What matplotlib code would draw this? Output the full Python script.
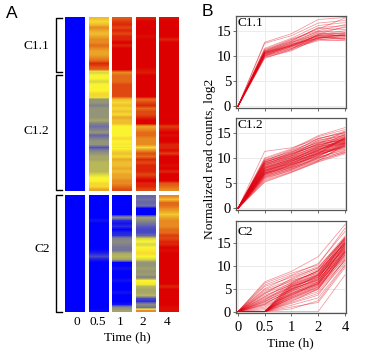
import matplotlib
matplotlib.use('Agg')
import matplotlib.pyplot as plt
import numpy as np
from matplotlib.colors import LinearSegmentedColormap
from matplotlib.lines import Line2D

W, H = 366, 354

time_labels = ['0', '0.5', '1', '2', '4']

# heatmap rows, 0 = blue ... 4 = yellow ... 8 = red
c1_t0 = [0] * 58
c1_t05 = [5, 4.5, 5, 6, 5.5, 5, 5.5, 6, 6, 6.5, 6, 5.5, 5.5, 6, 6.5, 7.5, 7, 6.5,
          3.5, 4, 4, 3.5, 4, 4, 4, 4.5, 4.5,
          2.2, 2.2, 1.8, 2.2, 2.2, 2.2, 2.2, 2.6,
          1.8, 1.4, 1.8, 2.2, 1.2, 1.8, 2.2, 2.2,
          0.9, 1.8, 2.2, 2.6, 2.6, 3, 3, 3,
          3, 3.5, 4, 4, 4.5, 4.5, 5.5]
c1_t1 = [6.8, 7.2, 7.5, 7, 7.5, 7, 7.5, 7.5, 8, 7.5, 8, 8, 8, 8, 8, 8, 8, 8,
         6, 6.5, 6.5, 6.5, 7, 7, 7, 7, 7,
         5, 4.5, 5, 4.5, 5, 4.5, 5.5, 5, 5,
         4, 4, 4, 4, 4.5, 4, 4.2,
         3.8, 4.5, 5, 4.5, 5.5, 5, 5, 5.5,
         5, 5.5, 5.5, 6, 6, 6.5, 7]
c1_t2 = [7.6, 8, 8, 8, 8, 8, 7.8, 8, 8, 8, 8, 8, 8, 8, 8, 8, 8, 7.8,
         7.6, 8, 8, 8, 8, 8, 8, 8, 8,
         6.5, 7, 7.5, 6.5, 7, 7, 7.5, 8, 8,
         5.5, 6, 6.5, 6.5, 6, 6, 6,
         4.5, 6, 7, 6.5, 7.5, 7, 7.5, 7.5,
         7.5, 7, 7.5, 8, 7.5, 7.5, 7]
c1_t4 = [7.8, 8, 8, 8, 8, 8, 8, 7.5, 8, 8, 8, 8, 8, 8, 8, 8, 8, 8,
         8, 8, 8, 8, 8, 8, 8, 8, 8,
         8, 8, 8, 8, 8, 8, 8, 8, 8,
         7.2, 7.6, 8, 7.8, 8, 8, 7.5,
         7.5, 7.8, 7.2, 8, 8, 8, 7.8, 8,
         7.5, 8, 8, 8, 6.8, 6.5, 6]

c2_t0 = [0] * 39
c2_t05 = [0, 0, 0, 0, 0, 0, 0, 0, 0.2, 0, 0, 0, 0, 0, 0, 0, 0, 0, 0.1,
          0.4, 0.8, 0.3, 0, 0, 0, 0, 0, 0, 0, 0, 0, 0, 0, 0, 0, 0, 0, 0, 0.1]
c2_t1 = [0, 0, 0, 0, 0, 0, 0, 2, 0.5, 0.2, 0.5, 0, 0.4, 0.5,
         1.8, 2, 1.8, 1.5, 1.5, 2.7, 3, 2.5,
         0, 0, 0.2, 0, 0, 0, 0.2, 0, 0, 0, 0.2, 0, 0, 0, 0.2, 2, 2.5]
c2_t2 = [1.2, 1.5, 1.2, 1.5, 0, 0, 0, 2.5, 2, 1.5, 1, 0.8, 0.8, 1.2,
         3.5, 4, 3.5, 4, 4.2, 4.5, 4, 3.5,
         2.2, 2.2, 2.5, 2.2, 2.4, 1.8, 4, 4.2, 3, 2.6, 2.6, 3, 0.8, 0.5, 2, 1.5, 6]
c2_t4 = [6, 5, 6.5, 6.5, 6, 5.5, 4.8, 5.5, 6, 6, 6, 6.5, 6.5,
         7.2, 7, 7.5, 7.5, 8, 7.8, 8, 8, 8, 8, 8, 8, 8, 8, 8, 8, 8,
         7.5, 8, 8, 8, 8, 8, 8, 7.8, 7.8]

# read counts at 0, 0.5, 1, 2, 4 h
c11_lines = [
    [0, 12.7, 14.4, 17.2, 17.6], [0, 12.5, 14.0, 16.5, 17.0], [0, 11.5, 13.5, 16.0, 16.6],
    [0, 11.3, 13.3, 15.3, 17.5], [0, 11.2, 13.0, 15.5, 15.2], [0, 11.0, 13.2, 15.0, 16.2],
    [0, 11.0, 12.8, 14.8, 15.6], [0, 10.8, 12.5, 14.6, 14.3], [0, 10.8, 12.7, 14.2, 15.0],
    [0, 10.7, 12.2, 14.5, 13.9], [0, 10.6, 12.4, 14.0, 14.5], [0, 10.5, 12.0, 13.8, 14.2],
    [0, 10.5, 12.3, 13.5, 13.8], [0, 10.4, 11.8, 14.1, 14.0], [0, 10.3, 12.0, 13.6, 13.5],
    [0, 10.2, 11.6, 13.4, 14.4], [0, 10.1, 11.8, 13.2, 13.6], [0, 10.0, 11.4, 13.7, 13.3],
    [0, 9.9, 11.5, 13.0, 13.2], [0, 9.8, 11.2, 13.3, 13.0], [0, 9.7, 11.0, 13.6, 14.1],
    [0, 9.5, 11.3, 14.3, 15.8], [0, 10.9, 12.9, 15.6, 16.0], [0, 10.6, 12.6, 14.9, 14.7],
    [0, 10.4, 12.1, 14.0, 13.4], [0, 10.2, 12.2, 13.9, 14.1], [0, 10.0, 11.9, 13.5, 14.0],
    [0, 10.7, 12.0, 14.2, 14.6],
]
c12_lines = [
    [0, 11.3, 12.0, 13.8, 15.0], [0, 10.0, 11.8, 14.4, 16.0], [0, 9.8, 11.6, 14.2, 15.6],
    [0, 9.6, 11.3, 13.7, 15.3], [0, 9.4, 11.5, 13.4, 14.8], [0, 9.3, 11.0, 13.9, 15.0],
    [0, 9.1, 10.8, 13.2, 14.6], [0, 9.0, 11.1, 13.0, 14.2], [0, 8.9, 10.6, 12.8, 15.2],
    [0, 8.8, 10.5, 13.5, 14.4], [0, 8.6, 10.8, 12.6, 13.8], [0, 8.5, 10.2, 12.4, 14.1],
    [0, 8.4, 10.4, 12.9, 13.5], [0, 8.3, 10.0, 12.1, 14.7], [0, 8.2, 10.1, 12.3, 13.2],
    [0, 8.1, 9.8, 11.9, 13.7], [0, 8.0, 9.6, 12.2, 13.0], [0, 7.9, 9.9, 11.7, 13.4],
    [0, 7.8, 9.5, 11.5, 14.0], [0, 7.7, 9.3, 11.8, 12.8], [0, 7.6, 9.6, 11.3, 13.3],
    [0, 7.5, 9.1, 11.1, 12.5], [0, 7.4, 9.2, 11.6, 13.6], [0, 7.3, 9.0, 11.0, 12.3],
    [0, 7.2, 8.8, 10.8, 13.1], [0, 7.1, 8.9, 11.2, 12.0], [0, 7.0, 8.6, 10.6, 12.9],
    [0, 7.0, 8.4, 10.9, 11.8], [0, 6.9, 8.7, 10.4, 12.6], [0, 6.8, 8.2, 10.2, 11.5],
    [0, 6.7, 8.5, 10.7, 12.2], [0, 6.6, 8.0, 10.0, 11.2], [0, 6.4, 8.1, 9.8, 12.4],
    [0, 6.3, 7.8, 9.6, 11.0], [0, 6.1, 7.7, 10.1, 11.7], [0, 6.0, 7.5, 9.5, 11.4],
    [0, 5.8, 7.6, 9.9, 12.1], [0, 5.6, 7.3, 9.4, 12.7], [0, 5.4, 7.2, 9.3, 11.1],
    [0, 5.2, 7.1, 9.2, 10.8],
    [0, 9.5, 11.2, 13.1, 13.9], [0, 9.2, 10.9, 12.7, 14.5], [0, 8.7, 10.3, 12.5, 13.6],
    [0, 8.6, 10.0, 11.9, 13.0], [0, 8.2, 9.7, 12.0, 14.3], [0, 7.9, 9.4, 11.4, 13.5],
    [0, 7.6, 9.0, 11.3, 12.7], [0, 7.4, 8.9, 10.9, 14.1], [0, 7.2, 9.3, 11.5, 13.8],
    [0, 7.0, 8.7, 11.0, 13.2], [0, 6.9, 8.3, 10.5, 12.5], [0, 6.7, 8.6, 10.3, 13.0],
    [0, 6.5, 8.2, 10.6, 12.3], [0, 6.2, 7.9, 10.2, 12.8], [0, 8.9, 10.4, 12.2, 13.4],
    [0, 9.2, 10.7, 12.6, 13.7], [0, 8.0, 9.7, 11.6, 12.9], [0, 7.5, 9.4, 10.8, 13.9],
]
c2_lines = [
    [0, 6.5, 8.8, 12.0, 19.0], [0, 6.2, 8.4, 10.2, 18.2], [0, 5.8, 8.0, 10.5, 17.5],
    [0, 5.5, 7.5, 9.5, 16.5], [0, 5.0, 7.8, 9.8, 16.0], [0, 4.8, 7.0, 9.2, 15.6],
    [0, 4.5, 6.6, 8.8, 15.2], [0, 4.2, 6.8, 8.4, 14.8], [0, 4.0, 6.2, 9.0, 16.2],
    [0, 3.6, 5.8, 8.0, 14.5], [0, 3.3, 6.0, 8.6, 15.0], [0, 3.0, 5.5, 7.6, 14.0],
    [0, 2.8, 5.2, 7.8, 13.6], [0, 2.5, 5.6, 7.2, 15.4], [0, 2.3, 4.8, 7.0, 13.2],
    [0, 2.1, 5.0, 6.8, 14.2], [0, 1.9, 4.4, 6.5, 12.8], [0, 1.7, 4.6, 7.4, 13.8],
    [0, 1.5, 4.0, 6.2, 12.4], [0, 1.3, 3.6, 5.8, 12.0], [0, 1.0, 3.8, 6.0, 13.0],
    [0, 0.7, 3.2, 5.4, 11.5], [0, 0.4, 2.8, 5.0, 11.0],
    [0, 3.9, 7.2, 9.6, 15.8], [0, 3.2, 6.4, 8.9, 14.9], [0, 2.6, 6.0, 8.2, 16.0],
    [0, 2.2, 5.4, 7.9, 14.6], [0, 1.6, 4.9, 8.0, 15.2],
    [0, 0, 5.8, 8.2, 15.8], [0, 0, 5.4, 7.5, 14.6], [0, 0, 5.0, 7.0, 13.4],
    [0, 0, 4.6, 6.6, 14.4], [0, 0, 4.2, 6.2, 13.0], [0, 0, 3.9, 6.0, 12.6],
    [0, 0, 3.5, 6.4, 13.7], [0, 0, 3.2, 5.6, 12.2], [0, 0, 3.0, 5.2, 11.8],
    [0, 0, 2.6, 4.8, 12.9], [0, 0, 2.4, 4.4, 11.2], [0, 0, 2.0, 4.0, 10.6],
    [0, 0, 1.8, 3.6, 11.4], [0, 0, 1.4, 3.0, 10.2], [0, 0, 1.0, 2.0, 9.6],
    [0, 0, 0, 0, 8.0], [0, 0, 0.6, 2.4, 10.0],
    [0, 0, 6.2, 8.9, 16.2], [0, 0, 5.6, 8.0, 15.0], [0, 0, 5.1, 7.6, 14.2],
    [0, 0, 4.8, 7.2, 15.6], [0, 0, 4.4, 6.9, 14.0], [0, 0, 4.0, 6.5, 13.2],
    [0, 0, 3.7, 6.1, 14.8], [0, 0, 3.4, 5.8, 13.5], [0, 0, 2.9, 5.4, 12.4],
    [0, 0, 2.2, 5.0, 13.1],
]

plt.rcParams['font.family'] = ['Liberation Serif']
plt.rcParams['font.size'] = 9.6


def px_axes(fig, left, top, right, bottom):
    return fig.add_axes([left / W, 1 - bottom / H, (right - left) / W, (bottom - top) / H])


def fig_text(fig, x, y, s, **kw):
    fig.text(x / W, 1 - y / H, s, ha=kw.pop('ha', 'center'), va=kw.pop('va', 'center'), **kw)


def draw_heatmap(fig):
    cmap = LinearSegmentedColormap.from_list('expr', [
        '#0000ff', '#5c5cb8', '#8c8c80', '#b8b85a', '#fbf530',
        '#f0bf30', '#e88c20', '#e04c12', '#dc0000'])
    ax = px_axes(fig, 62, 17, 181, 312)
    ax.set_xlim(-0.55, 4.5)
    ax.set_ylim(312, 17)
    ax.axis('off')
    c1_cols = [c1_t0, c1_t05, c1_t1, c1_t2, c1_t4]
    c2_cols = [c2_t0, c2_t05, c2_t1, c2_t2, c2_t4]
    for i in range(5):
        for col, top, bottom in [(c1_cols[i], 17, 191), (c2_cols[i], 195, 312)]:
            ax.imshow(np.array(col)[:, None], cmap=cmap, vmin=0, vmax=8, aspect='auto',
                      interpolation='bilinear', extent=[i - 0.42, i + 0.42, bottom, top])
    ax.set_xlim(-0.55, 4.5)
    ax.set_ylim(312, 17)

    # cluster brackets
    for top, bottom in [(18, 72), (75, 190), (195, 312)]:
        fig.add_artist(Line2D([62 / W, 56 / W, 56 / W, 62 / W],
                              [1 - top / H, 1 - top / H, 1 - bottom / H, 1 - bottom / H],
                              color='black', lw=1.0))
    fig_text(fig, 36, 46, 'C1.1')
    fig_text(fig, 36, 131, 'C1.2')
    fig_text(fig, 42, 249, 'C2')
    for x, lab in zip([77, 98, 120, 143, 167], time_labels):
        fig_text(fig, x, 322, lab)
    fig_text(fig, 127, 337, 'Time (h)')


def draw_panel(fig, top, bottom, ymax, lines, yticks, label, label_y, show_x=False):
    ax = px_axes(fig, 236, top, 346, bottom)
    for row in lines:
        ax.plot(range(5), row, color='#e00010', lw=0.55, alpha=0.42, solid_joinstyle='round')
    ax.set_xlim(-0.07, 4.04)
    ax.set_ylim(-0.3, ymax)
    ax.set_xticks(range(5))
    ax.set_yticks(yticks)
    ax.grid(True, color='#ececec', lw=0.7)
    ax.set_axisbelow(True)
    for s in ax.spines.values():
        s.set_color('#555555')
        s.set_linewidth(0.9)
    ax.tick_params(length=2, width=0.6, color='#555555', pad=1.5, labelsize=10.5)
    if show_x:
        ax.set_xticklabels(time_labels)
        ax.tick_params(axis='x', pad=4)
    else:
        ax.set_xticklabels([])
    ax.text(0.015, label_y, label, transform=ax.transAxes, va='center', ha='left', fontsize=9.6)
    return ax


def main():
    fig = plt.figure(figsize=(W / 100, H / 100), dpi=100)
    draw_heatmap(fig)
    draw_panel(fig, 16, 108, 17.9, c11_lines, [0, 5, 10, 15], 'C1.1', 0.92)
    draw_panel(fig, 118, 210, 17.9, c12_lines, [0, 5, 10, 15], 'C1.2', 0.92)
    draw_panel(fig, 221, 313, 19.8, c2_lines, [0, 5, 10, 15], 'C2', 0.88, show_x=True)
    fig_text(fig, 210, 159, 'Normalized read counts, log2', rotation=90, fontsize=9.7)
    fig_text(fig, 290, 343, 'Time (h)')
    fig_text(fig, 12, 13, 'A', family='Liberation Sans', fontsize=12.5)
    fig_text(fig, 207, 12, 'B', family='Liberation Sans', fontsize=12.5)
    fig.savefig('out.png', dpi=100)


if __name__ == '__main__':
    main()
